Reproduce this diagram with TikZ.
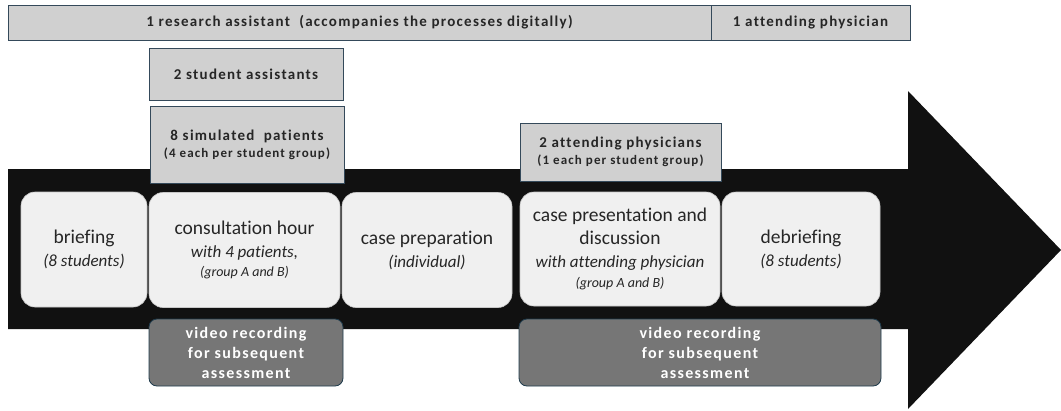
\documentclass[tikz,border=0pt]{standalone}
\usepackage{fontspec}
\setmainfont{Carlito}[Ligatures=NoCommon]
% bold labels are set slightly tracked
\newfontfamily\trackedfont{Carlito}[LetterSpace=8.5, Ligatures=NoCommon]

\definecolor{arrowblack}{HTML}{111111}
\definecolor{topfill}{HTML}{D0D0D0}
\definecolor{topline}{HTML}{34495A}
\definecolor{stepfill}{HTML}{F0F0F0}
\definecolor{stepline}{HTML}{C8C8C8}
\definecolor{videofill}{HTML}{767676}
\definecolor{videoline}{HTML}{1F3B4C}
\definecolor{textdark}{HTML}{262626}

\newcommand\stepnote[1]{{\itshape\fontsize{17}{20}\selectfont #1}}
\newcommand\stepsmall[1]{{\itshape\fontsize{14}{16}\selectfont #1}}
\newcommand\staffsmall[1]{{\fontsize{13}{15}\selectfont #1}}

\begin{document}
\begin{tikzpicture}[x=1pt, y=-1pt,
  staffbox/.style={draw=topline, fill=topfill, line width=0.8pt, inner sep=0pt,
    align=center, text=textdark, font=\trackedfont\bfseries\fontsize{15}{19}\selectfont},
  stepbox/.style={draw=stepline, fill=stepfill, line width=0.6pt, inner sep=0pt,
    rounded corners=14pt, minimum height=115pt, align=center, text=textdark,
    font=\fontsize{19.5}{23}\selectfont},
  videobox/.style={draw=videoline, fill=videofill, line width=0.8pt, inner sep=0pt,
    rounded corners=8pt, minimum height=67pt, align=center, text=white,
    font=\trackedfont\bfseries\fontsize{16}{20}\selectfont}]

\useasboundingbox (0,0) rectangle (1061,410);

% timeline arrow
\fill[arrowblack] (8,169) -- (908,169) -- (908,91) -- (1061,250)
  -- (908,409) -- (908,329) -- (8,329) -- cycle;

% staff involved
\node[staffbox, minimum width=703pt, minimum height=35pt] (ra) at (359.5,22.5)
  {1 research assistant \ (accompanies the processes digitally)};
\node[staffbox, minimum width=199pt, minimum height=35pt] (ap) at (810.5,22.5)
  {1 attending physician};
\node[staffbox, minimum width=194pt, minimum height=52pt] (sa) at (246,74)
  {2 student assistants};
\node[staffbox, minimum width=194pt, minimum height=77pt] (sp) at (247,144.5)
  {8 simulated \ patients\\[-2pt]\staffsmall{(4 each per student group)}};
\node[staffbox, minimum width=201pt, minimum height=58pt] (aps) at (620.5,152)
  {2 attending physicians\\[-2pt]\staffsmall{(1 each per student group)}};

% course steps
\node[stepbox, minimum width=126pt] (brief) at (84,249.5)
  {briefing\\\stepnote{(8 students)}};
\node[stepbox, minimum width=191pt] (consult) at (244.5,250)
  {consultation hour\\\stepnote{with 4 patients,}\\[-4pt]\stepsmall{(group A and B)}};
\node[stepbox, minimum width=170pt] (prep) at (427,250)
  {case preparation\\\stepnote{(individual)}};
\node[stepbox, minimum width=200pt, minimum height=114pt] (pres) at (620,249)
  {case presentation and\\discussion\\\stepnote{with attending physician}\\[-3pt]\stepsmall{(group A and B)}};
\node[stepbox, minimum width=158pt, minimum height=114pt] (debrief) at (801,249)
  {debriefing\\\stepnote{(8 students)}};

% video recording
\node[videobox, minimum width=194pt] (vid1) at (246,352.5)
  {video recording\\for subsequent\\assessment};
\node[videobox, minimum width=362pt] (vid2) at (700,352.5)
  {video recording\\for subsequent\\\ \ assessment};

\end{tikzpicture}
\end{document}
